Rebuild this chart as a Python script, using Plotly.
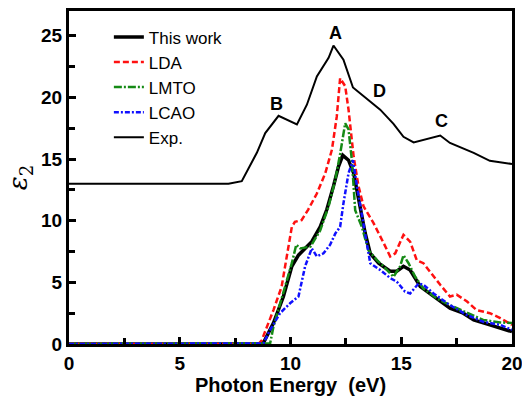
import plotly.graph_objects as go

# Exp.
exp_x = [0, 7.2, 7.8, 8.48, 8.86, 9.46, 10.29, 10.74, 11.19, 11.72, 11.94, 12.39, 12.82, 13.45, 14.05, 14.65, 15.1, 15.56, 16.76, 17.2, 18.27, 19.0, 20.0]
exp_y = [13.0, 13.0, 13.2, 15.5, 17.1, 18.5, 17.8, 19.4, 21.7, 23.2, 24.2, 23.05, 20.8, 19.9, 19.0, 17.85, 16.8, 16.35, 16.9, 16.3, 15.5, 14.85, 14.6]

# This work
tw_x = [0, 8.6, 8.78, 9.23, 9.68, 10.06, 10.36, 10.96, 11.34, 11.64, 11.94, 12.17, 12.36, 12.62, 12.85, 13.15, 13.37, 13.6, 13.98, 14.5, 14.8, 15.1, 15.4, 15.86, 16.46, 16.9, 17.2, 17.8, 18.27, 19.0, 20.0]
tw_y = [0, 0, 0.1, 1.7, 3.85, 6.3, 7.2, 8.3, 9.5, 10.9, 12.8, 14.4, 15.3, 14.9, 13.85, 11.15, 9.0, 7.35, 6.55, 5.9, 5.9, 6.3, 6.0, 4.65, 3.85, 3.3, 2.9, 2.5, 1.95, 1.55, 1.0]

# LDA
lda_x = [0, 8.55, 8.7, 9.23, 9.6, 10.06, 10.2, 10.5, 10.8, 11.19, 11.57, 11.87, 12.09, 12.24, 12.47, 12.62, 12.85, 13.07, 13.3, 13.75, 14.2, 14.5, 14.73, 15.1, 15.4, 15.7, 16.0, 16.46, 16.76, 17.2, 17.5, 17.97, 18.4, 19.0, 19.47, 20.0]
lda_y = [0, 0, 0.3, 2.75, 4.65, 9.5, 9.9, 10.05, 10.9, 12.2, 13.85, 15.75, 18.45, 21.55, 20.9, 19.0, 15.2, 12.8, 11.15, 9.8, 8.2, 7.1, 7.35, 8.85, 8.3, 6.8, 6.55, 5.45, 4.8, 3.85, 4.0, 3.45, 2.75, 2.5, 2.1, 1.55]

# LMTO
lmto_x = [0, 9.05, 9.08, 9.23, 9.68, 10.06, 10.26, 10.44, 10.9, 11.34, 11.72, 12.02, 12.24, 12.47, 12.62, 12.77, 12.92, 13.22, 13.52, 13.9, 14.2, 14.65, 14.95, 15.1, 15.33, 15.63, 16.0, 16.6, 17.2, 17.97, 18.7, 19.47, 20.0]
lmto_y = [0, 0, 0.05, 1.4, 4.1, 6.55, 8.05, 7.75, 7.9, 9.2, 11.15, 13.3, 15.4, 17.9, 17.4, 14.9, 10.85, 9.5, 7.6, 6.8, 6.3, 5.45, 6.3, 7.2, 6.55, 5.45, 4.5, 3.7, 3.15, 2.5, 1.95, 1.75, 1.7]

# LCAO
lcao_x = [0, 8.7, 8.78, 9.08, 9.53, 9.98, 10.36, 10.66, 10.96, 11.19, 11.49, 11.79, 12.02, 12.24, 12.39, 12.62, 12.82, 13.0, 13.22, 13.6, 14.05, 14.5, 14.8, 15.17, 15.4, 15.78, 16.0, 16.46, 17.2, 17.97, 18.7, 19.47, 20.0]
lcao_y = [0, 0, 0.05, 1.15, 2.5, 3.3, 3.85, 6.3, 7.75, 7.1, 7.35, 8.05, 8.95, 9.5, 11.4, 13.85, 14.9, 12.8, 10.6, 6.55, 6.0, 5.35, 5.05, 4.25, 4.1, 4.9, 4.8, 4.1, 3.15, 2.35, 1.8, 1.55, 1.15]

peak_labels = ["A", "B", "D", "C"]
peak_x = [12.02, 9.38, 14.0, 16.8]
peak_y = [25.2, 19.5, 20.5, 18.1]

FONT = "Liberation Sans, Arial, Helvetica, sans-serif"

fig = go.Figure()
fig.add_trace(go.Scatter(x=tw_x, y=tw_y, mode="lines", name="This work",
                         line=dict(color="black", width=3.5)))
fig.add_trace(go.Scatter(x=lda_x, y=lda_y, mode="lines", name="LDA",
                         line=dict(color="#ff1010", width=2.5, dash="6px,3px")))
fig.add_trace(go.Scatter(x=lmto_x, y=lmto_y, mode="lines", name="LMTO",
                         line=dict(color="#158a15", width=2.5, dash="8px,2px,2px,2px")))
fig.add_trace(go.Scatter(x=lcao_x, y=lcao_y, mode="lines", name="LCAO",
                         line=dict(color="#1010ff", width=2.5, dash="5px,2px,2px,2px")))
fig.add_trace(go.Scatter(x=exp_x, y=exp_y, mode="lines", name="Exp.",
                         line=dict(color="black", width=2)))

for t, x, y in zip(peak_labels, peak_x, peak_y):
    fig.add_annotation(x=x, y=y, text="<b>%s</b>" % t, showarrow=False,
                       font=dict(family=FONT, size=18, color="black"))

fig.update_layout(
    width=522, height=401,
    margin=dict(l=69, r=10, t=11, b=57, pad=0),
    paper_bgcolor="white", plot_bgcolor="white",
    font=dict(family=FONT, color="black"),
    showlegend=True,
    legend=dict(x=0.09, y=0.975, xanchor="left", yanchor="top",
                bgcolor="rgba(0,0,0,0)", borderwidth=0,
                font=dict(family=FONT, size=17, color="black"),
                tracegroupgap=0, itemwidth=30),
)
fig.update_xaxes(
    range=[0, 20], tickvals=[0, 5, 10, 15, 20], ticks="inside", ticklen=7, tickwidth=2.5,
    minor=dict(tickvals=[2.5, 7.5, 12.5, 17.5], ticks="inside", ticklen=6, tickwidth=2.5, tickcolor="black"),
    tickcolor="black", showline=True, linecolor="black", linewidth=3, mirror=True,
    showgrid=False, zeroline=False, automargin=False, ticklabeloverflow="allow",
    tickfont=dict(family=FONT, size=19, color="black", weight="bold"),
    title=dict(text="<b>Photon Energy  (eV)</b>", font=dict(family=FONT, size=20, color="black"), standoff=5),
)
fig.update_yaxes(
    range=[0, 27], tickvals=[0, 5, 10, 15, 20, 25], ticks="inside", ticklen=7, tickwidth=2.5,
    minor=dict(tickvals=[2.5, 7.5, 12.5, 17.5, 22.5], ticks="inside", ticklen=6, tickwidth=2.5, tickcolor="black"),
    tickcolor="black", showline=True, linecolor="black", linewidth=3, mirror=True,
    showgrid=False, zeroline=False, automargin=False, ticklabeloverflow="allow",
    tickfont=dict(family=FONT, size=19, color="black", weight="bold"),
    title=dict(text="<i>ε</i><sub>2</sub>", font=dict(family="DejaVu Serif, serif", size=26, color="black"), standoff=6),
)

fig.write_html("out.html")
